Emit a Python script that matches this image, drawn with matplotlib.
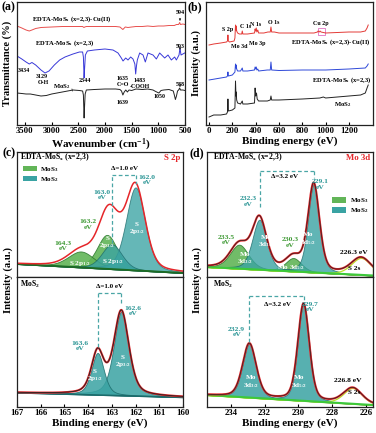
import numpy as np
import matplotlib
matplotlib.use("Agg")
import matplotlib.pyplot as plt
from matplotlib.patches import Rectangle, Patch

plt.rcParams['font.family'] = ['Liberation Serif', 'DejaVu Serif']
plt.rcParams['font.weight'] = 'bold'
plt.rcParams['mathtext.fontset'] = 'custom'
plt.rcParams['mathtext.rm'] = 'Liberation Serif:bold'
plt.rcParams['mathtext.it'] = 'Liberation Serif:bold'
plt.rcParams['mathtext.bf'] = 'Liberation Serif:bold'

# ---------------- (a) FTIR data (wavenumber, offset transmittance) ----------------
ftir_cu_wn = [3650, 3560, 3480, 3420, 3370, 3300, 3200, 3000, 2800, 2600, 2420, 2395, 2380, 2350,
              2000, 1800, 1720, 1665, 1620, 1570, 1500, 1420, 1300, 1200, 1100, 1000, 900, 800,
              700, 660, 620, 600, 585, 540, 500]
ftir_cu_t = [99, 97, 95, 94, 95, 96.5, 97.5, 98, 98.5, 98.5, 98.5, 97.5, 98, 98.5,
             98.5, 98.5, 98, 95.5, 98, 97.5, 98, 98.5, 98.5, 99, 98.5, 99, 99, 99.5,
             99.5, 100.5, 100.5, 102.5, 100.5, 101, 100.5]

ftir_edta_wn = [3650, 3560, 3480, 3420, 3370, 3300, 3200, 3125, 3050, 2950, 2850, 2750, 2600, 2480,
                2420, 2405, 2392, 2382, 2368, 2330, 2200, 2000, 1850, 1756, 1694, 1662, 1612, 1569,
                1519, 1475, 1440, 1425, 1410, 1394, 1350, 1287, 1244, 1194, 1100, 1037, 975, 881,
                819, 756, 694, 662, 612, 594, 575, 506]
ftir_edta_t = [69, 66, 63, 61, 62.5, 60, 55, 52, 54, 60, 65, 68, 71, 73,
               73, 68, 47, 57, 70, 74, 75, 76, 75, 72, 67, 64, 67, 65,
               68, 66, 61, 51, 59, 65, 72, 70, 63, 72, 70, 66, 72, 67,
               70, 65, 68, 65, 70, 77, 70, 72]

ftir_mos2_wn = [3650, 3560, 3480, 3400, 3300, 3200, 3100, 3000, 2900, 2800, 2700, 2600, 2480, 2420,
                2405, 2392, 2382, 2372, 2350, 2200, 2000, 1800, 1720, 1690, 1665, 1640, 1610, 1580,
                1550, 1500, 1420, 1300, 1200, 1100, 1050, 990, 950, 900, 800, 720, 700, 680,
                660, 640, 620, 600, 585, 540, 500]
ftir_mos2_t = [32, 31.5, 31, 31, 30, 29, 29.5, 31, 32, 33, 34, 35, 34.5, 34,
               30, 7, 20, 31, 35, 35.5, 36, 36, 35.5, 34, 30, 33, 35, 33,
               35, 34.5, 36, 35.5, 36, 35, 33.5, 32, 34.5, 35, 35.5, 34, 30, 25.5,
               29, 34, 35, 37, 35, 35, 34.5]

# ---------------- (b) XPS survey (binding energy, offset intensity) ----------------
sv_cu_x = [0, 40, 100, 150, 158, 162, 166, 175, 215, 222, 227, 231, 233, 237, 245, 260, 280, 285, 290,
           330, 390, 395, 400, 405, 410, 418, 425, 470, 505, 525, 531, 537, 560, 600, 700, 800, 900,
           930, 935, 945, 952, 960, 1000, 1100, 1200, 1300, 1340, 1355, 1365]
sv_cu_y = [80, 81, 82, 83, 84, 90, 84, 83, 84, 87, 100, 95, 99, 94, 92, 91, 91, 94, 91,
           91, 92, 96, 94, 97, 93, 95, 92, 92, 93, 93, 98, 93, 93, 92, 92, 92, 92,
           93, 94, 93, 94, 93, 92, 92.5, 93, 93, 94, 97, 100]
sv_edta_x = [0, 50, 100, 150, 158, 162, 166, 200, 222, 227, 231, 233, 237, 245, 270, 285, 290, 330,
             390, 395, 400, 405, 410, 418, 425, 500, 525, 531, 537, 600, 800, 1000, 1200, 1340, 1355, 1365]
sv_edta_y = [45, 46, 47, 48, 49, 53, 49, 50, 53, 61, 57, 60, 56, 54, 54, 57, 54, 54,
             55, 58, 56, 58, 55, 56, 54, 55, 55, 63, 55, 54.5, 55, 55, 56, 57, 59, 61]
sv_mos2_x = [0, 40, 100, 150, 158, 162, 166, 200, 222, 227, 231, 233, 237, 245, 270, 285, 290, 330,
             390, 395, 400, 407, 413, 425, 500, 525, 531, 537, 600, 800, 950, 980, 1000, 1200, 1300,
             1340, 1355, 1365]
sv_mos2_y = [8, 10, 10, 11, 13, 26, 14, 15, 17, 44, 29, 33, 25, 22, 21, 24, 21, 21,
             22, 37, 29, 32, 26, 24, 24, 25, 29, 25, 25, 26, 27, 28, 27, 29, 30,
             32, 37, 40]

# ---------------- (c) S 2p fits: centre (eV), height, FWHM ----------------
c1_bg = [13, 4]                      # background at 167 and 160 eV
c1_mos3_c = [163.2, 164.3]; c1_mos3_h = [34, 16]; c1_mos3_w = [1.0, 1.3]
c1_mos2_c = [162.0, 163.0]; c1_mos2_h = [83, 25]; c1_mos2_w = [0.95, 1.0]
c2_bg = [14.3, 9.7]
c2_mos2_c = [162.6, 163.6]; c2_mos2_h = [84, 42]; c2_mos2_w = [0.75, 0.62]

# ---------------- (d) Mo 3d fits ----------------
d1_bg = [10, 1.5]                    # background at 235.4 and 225.6 eV
d1_mos2_c = [229.1, 232.3]; d1_mos2_h = [88, 50]; d1_mos2_w = [0.8, 1.0]
d1_mos3_c = [230.3, 233.5]; d1_mos3_h = [13.4, 24]; d1_mos3_w = [1.1, 1.3]
d1_s2s_c = 226.3; d1_s2s_h = 17; d1_s2s_w = 1.4
d2_bg = [12, 2]
d2_mos2_c = [229.7, 232.9]; d2_mos2_h = [97, 54]; d2_mos2_w = [0.8, 0.95]
d2_s2s_c = 226.8; d2_s2s_h = 15.8; d2_s2s_w = 1.3

GREEN = '#62b558'; GREEN_E = '#2d7a2f'; GREEN_T = '#3f9a35'
TEAL = '#3aa3a3'; TEAL_E = '#1b6a6a'; TEAL_T = '#2a9595'
RED = '#e5262a'


def pv(x, c, h, w, eta=0.3):
    g = np.exp(-4 * np.log(2) * ((x - c) / w) ** 2)
    l = 1.0 / (1 + 4 * ((x - c) / w) ** 2)
    return h * ((1 - eta) * g + eta * l)


W, H = 376, 433
fig = plt.figure(figsize=(3.76, 4.33), dpi=100)


def axpx(l, t, r, b):
    return fig.add_axes([l / W, 1 - b / H, (r - l) / W, (b - t) / H])


def style(ax):
    for s in ax.spines.values():
        s.set_linewidth(0.9)
        s.set_color('#222222')
    ax.tick_params(axis='both', direction='in', length=2.5, width=0.8, labelsize=6.3, pad=1.5)
    ax.set_yticks([])


TXT = dict(fontweight='bold')

# ================= (a) =================
ax = axpx(17, 2, 185, 125)
style(ax)
ax.plot(ftir_cu_wn, ftir_cu_t, color='#e8504e', lw=0.7)
ax.plot(ftir_edta_wn, ftir_edta_t, color='#3838d8', lw=0.7)
ax.plot(ftir_mos2_wn, ftir_mos2_t, color='#222222', lw=0.7)
ax.set_xlim(3650, 500)
ax.set_ylim(0, 123)
ax.set_xticks([3500, 3000, 2500, 2000, 1500, 1000, 500])
ax.set_xlabel('Wavenumber (cm$^{-1}$)', fontsize=8, labelpad=1, **TXT)
ax.set_ylabel('Transmittance (%)', fontsize=7.6, **TXT)
ax.yaxis.set_label_coords(-0.028, 0.5)
fs = 4.3
ax.text(3369, 106, 'EDTA-MoS$_\\mathrm{x}$ (x=2,3)-Cu(II)', fontsize=4.8, va='center', **TXT)
ax.text(3312, 82, 'EDTA-MoS$_\\mathrm{x}$ (x=2,3)', fontsize=4.8, va='center', **TXT)
for s, x, y in [('3434', 3519, 55), ('3129', 3181, 49), ('O-H', 3162, 42), ('2344', 2375, 45),
                ('1635', 1662, 46), ('C=O', 1662, 40), ('1483', 1344, 45), ('-COOH', 1344, 39),
                ('1639', 1662, 22), ('1050', 969, 28)]:
    ax.text(x, y, s, fontsize=fs, ha='center', va='center', **TXT)
ax.text(2806, 38, 'MoS$_2$', fontsize=4.8, ha='center', va='center', **TXT)
ax.plot([2620, 2610], [36, 34], color='#222222', lw=0.5)
for s, y, y2 in [('594', 112, 104), ('593', 79, 75), ('588', 41, 38)]:
    ax.text(594, y, s, fontsize=fs, ha='center', va='center', **TXT)
    ax.annotate('', xy=(594, y2), xytext=(594, y - 2.5),
                arrowprops=dict(arrowstyle='-|>', lw=0.4, color='#222222', mutation_scale=3))
fig.text(2 / W, 1 - 7 / H, '(a)', fontsize=8.5, va='center', ha='left', **TXT)

# ================= (b) =================
ax = axpx(206, 2, 373, 125)
style(ax)
ax.plot(sv_cu_x, sv_cu_y, color='#e33a36', lw=0.7)
ax.plot(sv_edta_x, sv_edta_y, color='#2e48d8', lw=0.7)
ax.plot(sv_mos2_x, sv_mos2_y, color='#222222', lw=0.7)
ax.set_xlim(-26, 1406)
ax.set_ylim(0, 123)
ax.set_xticks([0, 200, 400, 600, 800, 1000, 1200])
ax.set_xlabel('Binding energy (eV)', fontsize=8, labelpad=1, **TXT)
ax.set_ylabel('Intensity (a.u.)', fontsize=7.6, **TXT)
ax.yaxis.set_label_coords(-0.03, 0.5)
for s, x, y in [('S 2p', 163, 96), ('Mo 3d', 263, 78), ('C 1s', 310, 98), ('Mo 3p', 412, 82),
                ('N 1s', 403, 101), ('O 1s', 558, 102), ('Cu 2p', 961, 102)]:
    ax.text(x, y, s, fontsize=4.3, ha='center', va='center', **TXT)
ax.add_patch(Rectangle((933, 90), 65, 7, fill=False, ec='#e070c0', lw=0.6))
ax.text(1391, 83, 'EDTA-MoS$_\\mathrm{x}$ (x=2,3)-Cu(II)', fontsize=4.8, ha='right', va='center', **TXT)
ax.text(1391, 45, 'EDTA-MoS$_\\mathrm{x}$ (x=2,3)', fontsize=4.8, ha='right', va='center', **TXT)
ax.text(1150, 20, 'MoS$_2$', fontsize=4.8, ha='center', va='center', **TXT)
fig.text(188 / W, 1 - 7 / H, '(b)', fontsize=8.5, va='center', ha='left', **TXT)


def fill_comp(ax, x, bg, comp, fc, ec, alpha):
    ax.fill_between(x, bg, bg + comp, facecolor=fc, edgecolor=ec, lw=0.6, alpha=alpha)


def dashed_box(ax, xl, xr, ytop, yl, yr):
    kw = dict(color='#4aa6a6', lw=0.9, ls=(0, (3, 2)))
    ax.plot([xl, xl], [yl, ytop], **kw)
    ax.plot([xl, xr], [ytop, ytop], **kw)
    ax.plot([xr, xr], [ytop, yr], **kw)


# ================= (c) top =================
ax = axpx(17, 152, 183, 277)
style(ax)
x = np.linspace(167, 160, 600)
bg = c1_bg[0] + (c1_bg[1] - c1_bg[0]) * (167 - x) / 7.0
env = bg.copy()
for c, h, w in zip(c1_mos3_c, c1_mos3_h, c1_mos3_w):
    comp = pv(x, c, h, w)
    fill_comp(ax, x, bg, comp, GREEN, GREEN_E, 0.9)
    env += comp
for c, h, w in zip(c1_mos2_c, c1_mos2_h, c1_mos2_w):
    comp = pv(x, c, h, w)
    fill_comp(ax, x, bg, comp, TEAL, TEAL_E, 0.78)
    env += comp
ax.plot(x, bg, color='#1d6b25', lw=1.4)
ax.plot(x, env, color=RED, lw=1.1)
ax.set_xlim(167, 160)
ax.set_ylim(0, 125)
ax.tick_params(axis='x', bottom=False, labelbottom=False)
ax.text(0.02, 0.955, 'EDTA-MoS$_\\mathrm{x}$ (x=2,3)', transform=ax.transAxes, fontsize=5.6, va='center', **TXT)
ax.text(0.985, 0.955, 'S 2p', transform=ax.transAxes, fontsize=6.3, color=RED, ha='right', va='center', **TXT)
ax.legend(handles=[Patch(fc=GREEN, ec='none', label='MoS$_3$'), Patch(fc=TEAL, ec='none', label='MoS$_2$')],
          loc='upper left', bbox_to_anchor=(0.01, 0.93), frameon=False, fontsize=5,
          handlelength=2.0, handleheight=0.9, labelspacing=0.15, handletextpad=0.5, borderaxespad=0.2)
dashed_box(ax, 163.0, 162.0, 102, 34, 93)
ax.text(162.45, 108, 'Δ=1.0 eV', fontsize=5, ha='center', va='center', **TXT)
for s, xx, yy, col in [('162.0\neV', 161.52, 97, TEAL_T), ('163.0\neV', 163.41, 82, TEAL_T),
                       ('163.2\neV', 164.0, 52.5, GREEN_T), ('164.3\neV', 165.06, 31, GREEN_T)]:
    ax.text(xx, yy, s, fontsize=5.4, ha='center', va='center', color=col, linespacing=1.2, **TXT)
for s, xx, yy in [('S\n2p$_{3/2}$', 161.94, 48), ('S\n2p$_{3/2}$', 163.2, 34),
                  ('S 2p$_{1/2}$', 164.34, 13), ('S 2p$_{1/2}$', 162.95, 15)]:
    ax.text(xx, yy, s, fontsize=5.2, ha='center', va='center', color='white', linespacing=1.1, **TXT)

# ================= (c) bottom =================
ax = axpx(17, 277, 183, 407)
style(ax)
bg = c2_bg[0] + (c2_bg[1] - c2_bg[0]) * (167 - x) / 7.0
env = bg.copy()
for c, h, w in zip(c2_mos2_c, c2_mos2_h, c2_mos2_w):
    comp = pv(x, c, h, w, 0.45)
    fill_comp(ax, x, bg, comp, TEAL, TEAL_E, 0.85)
    env += comp
ax.plot(x, bg, color='#1b6a6a', lw=1.0)
ax.plot(x, env, color=RED, lw=1.5)
ax.plot(x, env, color='#222222', lw=0.6)
ax.set_xlim(167, 160)
ax.set_ylim(0, 130)
ax.set_xticks([167, 166, 165, 164, 163, 162, 161, 160])
ax.set_xlabel('Binding energy (eV)', fontsize=8, labelpad=1, **TXT)
ax.text(0.02, 0.94, 'MoS$_2$', transform=ax.transAxes, fontsize=5.6, va='center', **TXT)
dashed_box(ax, 163.6, 162.6, 114, 60, 102)
ax.text(163.12, 121, 'Δ=1.0 eV', fontsize=5, ha='center', va='center', **TXT)
for s, xx, yy in [('162.6\neV', 162.1, 96), ('163.6\neV', 164.34, 61)]:
    ax.text(xx, yy, s, fontsize=5.4, ha='center', va='center', color=TEAL_T, linespacing=1.2, **TXT)
for s, xx, yy in [('S\n2p$_{3/2}$', 162.53, 45), ('S\n2p$_{1/2}$', 163.71, 31)]:
    ax.text(xx, yy, s, fontsize=5.2, ha='center', va='center', color='white', linespacing=1.1, **TXT)
fig.text(3 / W, 1 - 153 / H, '(c)', fontsize=8.5, va='center', ha='left', **TXT)
fig.text(8 / W, 1 - 280 / H, 'Intensity (a.u.)', fontsize=7.6, rotation=90, va='center', ha='center', **TXT)

# ================= (d) top =================
X0, X1 = 235.4, 225.6
xd = np.linspace(X0, X1, 600)
ax = axpx(207, 152, 373, 277)
style(ax)
bg = d1_bg[0] + (d1_bg[1] - d1_bg[0]) * (X0 - xd) / (X0 - X1)
env = bg.copy()
for c, h, w in zip(d1_mos3_c, d1_mos3_h, d1_mos3_w):
    comp = pv(xd, c, h, w, 0.35)
    fill_comp(ax, xd, bg, comp, GREEN, GREEN_E, 0.9)
    env += comp
for c, h, w in zip(d1_mos2_c, d1_mos2_h, d1_mos2_w):
    comp = pv(xd, c, h, w, 0.35)
    fill_comp(ax, xd, bg, comp, TEAL, TEAL_E, 0.8)
    env += comp
comp = pv(xd, d1_s2s_c, d1_s2s_h, d1_s2s_w)
ax.fill_between(xd, bg, bg + comp, facecolor='white', edgecolor='#b8e02a', lw=0.9)
env += comp
ax.plot(xd, bg, color='#3cc83c', lw=1.5)
ax.plot(xd, env, color=RED, lw=1.5)
ax.plot(xd, env, color='#222222', lw=0.5)
ax.set_xlim(X0, X1)
ax.set_ylim(0, 125)
ax.tick_params(axis='x', bottom=False, labelbottom=False)
ax.text(0.036, 0.955, 'EDTA-MoS$_\\mathrm{x}$ (x=2,3)', transform=ax.transAxes, fontsize=5.6, va='center', **TXT)
ax.text(0.985, 0.955, 'Mo 3d', transform=ax.transAxes, fontsize=6.3, color=RED, ha='right', va='center', **TXT)
ax.legend(handles=[Patch(fc=GREEN, ec='none', label='MoS$_3$'), Patch(fc=TEAL, ec='none', label='MoS$_2$')],
          loc='upper right', bbox_to_anchor=(0.995, 0.68), frameon=False, fontsize=5,
          handlelength=2.0, handleheight=0.9, labelspacing=0.15, handletextpad=0.5, borderaxespad=0.2)
dashed_box(ax, 232.3, 229.1, 106, 70, 99)
ax.text(230.8, 100, 'Δ=3.2 eV', fontsize=5, ha='center', va='center', **TXT)
for s, xx, yy, col in [('229.1\neV', 228.73, 92.5, TEAL_T), ('232.3\neV', 232.98, 75.5, TEAL_T),
                       ('233.5\neV', 234.28, 37, GREEN_T), ('230.3\neV', 230.5, 34.5, GREEN_T)]:
    ax.text(xx, yy, s, fontsize=5.4, ha='center', va='center', color=col, linespacing=1.2, **TXT)
ax.text(226.75, 24, '226.3 eV', fontsize=5.4, ha='center', va='center', **TXT)
ax.text(226.72, 8, 'S 2s', fontsize=5.2, ha='center', va='center', **TXT)
for s, xx, yy in [('Mo\n3d$_{3/2}$', 231.92, 35), ('Mo\n3d$_{5/2}$', 229.44, 37.5),
                  ('Mo\n3d$_{3/2}$', 233.16, 18), ('Mo 3d$_{5/2}$', 230.44, 9)]:
    ax.text(xx, yy, s, fontsize=5.2, ha='center', va='center', color='white', linespacing=1.1, **TXT)

# ================= (d) bottom =================
ax = axpx(207, 277, 373, 407)
style(ax)
bg = d2_bg[0] + (d2_bg[1] - d2_bg[0]) * (X0 - xd) / (X0 - X1)
env = bg.copy()
for c, h, w in zip(d2_mos2_c, d2_mos2_h, d2_mos2_w):
    comp = pv(xd, c, h, w)
    fill_comp(ax, xd, bg, comp, TEAL, TEAL_E, 0.85)
    env += comp
comp = pv(xd, d2_s2s_c, d2_s2s_h, d2_s2s_w)
ax.fill_between(xd, bg, bg + comp, facecolor='white', edgecolor='#b8e02a', lw=0.9)
env += comp
ax.plot(xd, bg, color='#3cc83c', lw=1.5)
ax.plot(xd, env, color=RED, lw=1.5)
ax.plot(xd, env, color='#222222', lw=0.5)
ax.set_xlim(X0, X1)
ax.set_ylim(0, 130)
ax.set_xticks([234, 232, 230, 228, 226])
ax.set_xlabel('Binding energy (eV)', fontsize=8, labelpad=1, **TXT)
ax.text(0.036, 0.94, 'MoS$_2$', transform=ax.transAxes, fontsize=5.6, va='center', **TXT)
dashed_box(ax, 232.9, 229.7, 111, 65, 106)
ax.text(231.23, 102, 'Δ=3.2 eV', fontsize=5, ha='center', va='center', **TXT)
for s, xx, yy in [('229.7\neV', 229.32, 100), ('232.9\neV', 233.65, 75)]:
    ax.text(xx, yy, s, fontsize=5.4, ha='center', va='center', color=TEAL_T, linespacing=1.2, **TXT)
ax.text(227.1, 27, '226.8 eV', fontsize=5.4, ha='center', va='center', **TXT)
ax.text(226.72, 14, 'S 2s', fontsize=5.2, ha='center', va='center', **TXT)
for s, xx, yy in [('Mo\n3d$_{3/2}$', 232.8, 24.5), ('Mo\n3d$_{5/2}$', 229.95, 24.5)]:
    ax.text(xx, yy, s, fontsize=5.2, ha='center', va='center', color='white', linespacing=1.1, **TXT)
fig.text(190 / W, 1 - 153 / H, '(d)', fontsize=8.5, va='center', ha='left', **TXT)
fig.text(197 / W, 1 - 280 / H, 'Intensity (a.u.)', fontsize=7.6, rotation=90, va='center', ha='center', **TXT)

fig.savefig('out.png', dpi=100)
